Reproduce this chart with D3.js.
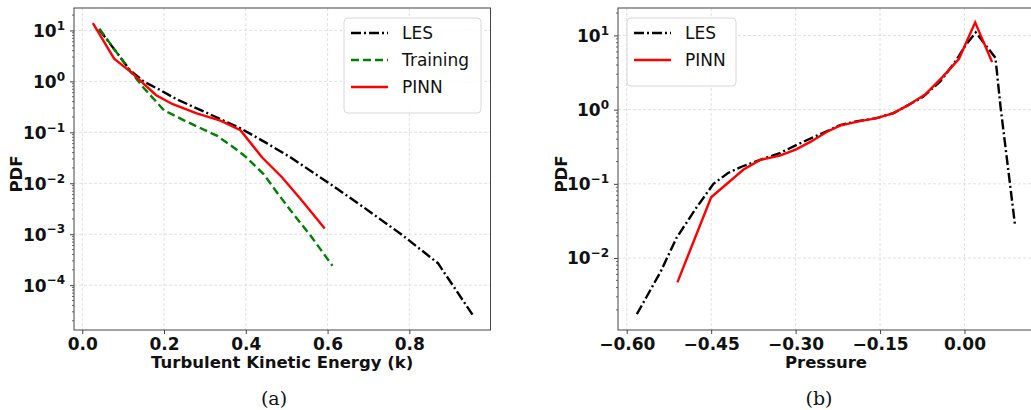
<!DOCTYPE html>
<html>
<head>
<meta charset="utf-8">
<script src="https://cdn.jsdelivr.net/npm/d3@7"></script>
<style>
  body { margin: 0; background: #fff; }
  svg { display: block; }
</style>
</head>
<body>
<div id="chart"></div>
<script>
'use strict'

// ---------- data ----------
const lesK = [[0.041,10.5],[0.08,4.1],[0.117,1.65],[0.15,1.0],[0.19,0.68],[0.23,0.45],[0.30,0.25],[0.387,0.12],[0.45,0.062],[0.51,0.032],[0.60,0.0105],[0.69,0.0033],[0.78,0.001],[0.87,0.00027],[0.955,0.000026]]
const trainK = [[0.042,10.8],[0.08,4.1],[0.117,1.6],[0.15,0.75],[0.20,0.27],[0.25,0.17],[0.29,0.12],[0.33,0.085],[0.371,0.05],[0.40,0.033],[0.444,0.015],[0.48,0.006],[0.518,0.0024],[0.56,0.0009],[0.612,0.00024]]
const pinnK = [[0.026,13.9],[0.078,2.8],[0.12,1.5],[0.18,0.54],[0.22,0.36],[0.28,0.235],[0.338,0.17],[0.387,0.11],[0.44,0.032],[0.489,0.013],[0.536,0.0047],[0.593,0.0013]]

const lesP = [[-0.582,0.00175],[-0.54,0.0065],[-0.511,0.019],[-0.476,0.048],[-0.446,0.1],[-0.42,0.14],[-0.396,0.17],[-0.363,0.21],[-0.328,0.26],[-0.286,0.37],[-0.242,0.52],[-0.221,0.62],[-0.19,0.7],[-0.156,0.77],[-0.126,0.9],[-0.1,1.15],[-0.073,1.5],[-0.043,2.4],[-0.014,4.7],[0.001,7.2],[0.02,11],[0.055,5.0],[0.064,1.1],[0.09,0.027]]
const pinnP = [[-0.51,0.0047],[-0.45,0.066],[-0.393,0.155],[-0.363,0.21],[-0.328,0.24],[-0.30,0.29],[-0.273,0.37],[-0.245,0.5],[-0.221,0.61],[-0.19,0.69],[-0.156,0.77],[-0.126,0.9],[-0.1,1.15],[-0.07,1.6],[-0.04,2.7],[-0.01,4.8],[0.019,15],[0.049,4.4]]

const xTicksK = [0, 0.2, 0.4, 0.6, 0.8]
const xTicksP = [-0.60, -0.45, -0.30, -0.15, 0.00]
const yExpK = [1, 0, -1, -2, -3, -4]
const yExpP = [1, 0, -1, -2]

// ---------- svg ----------
const W = 1031, H = 410
const svg = d3.select('#chart').append('svg')
    .attr('width', W)
    .attr('height', H)

const font = 'DejaVu Sans, Verdana, sans-serif'

const styles = {
    les:   {color: '#000', dash: '10,3,2,3'},
    train: {color: '#008000', dash: '8,4'},
    pinn:  {color: '#ff0000', dash: null}
}

function panel(opts) {
    const g = svg.append('g')
    const x = d3.scaleLinear().domain(opts.xDomain).range([opts.left, opts.right])
    const y = d3.scaleLog().domain(opts.yDomain).range([opts.bottom, opts.top])

    // grid
    const grid = g.append('g')
    grid.selectAll('.gx').data(opts.xTicks).join('line')
        .attr('x1', d => x(d)).attr('x2', d => x(d))
        .attr('y1', opts.top).attr('y2', opts.bottom)
        .attr('stroke', '#d8d8d8').attr('stroke-width', 0.8).attr('stroke-dasharray', '3,2')
    grid.selectAll('.gy').data(opts.yExp).join('line')
        .attr('x1', opts.left).attr('x2', opts.right)
        .attr('y1', d => y(Math.pow(10, d))).attr('y2', d => y(Math.pow(10, d)))
        .attr('stroke', '#d8d8d8').attr('stroke-width', 0.8).attr('stroke-dasharray', '3,2')

    // lines
    const line = d3.line().x(d => x(d[0])).y(d => y(d[1]))
    opts.series.forEach(s => {
        g.append('path')
            .attr('d', line(s.data))
            .attr('fill', 'none')
            .attr('stroke', styles[s.key].color)
            .attr('stroke-width', 2.4)
            .attr('stroke-dasharray', styles[s.key].dash)
    })

    // frame
    g.append('rect')
        .attr('x', opts.left).attr('y', opts.top)
        .attr('width', opts.right - opts.left).attr('height', opts.bottom - opts.top)
        .attr('fill', 'none').attr('stroke', '#444').attr('stroke-width', 1)

    // x axis
    const xAxis = d3.axisBottom(x).tickValues(opts.xTicks).tickSize(4).tickPadding(4)
        .tickFormat(d => d3.format(opts.xFmt)(d).replace('-', '\u2212'))
    const gx = g.append('g').attr('transform', `translate(0,${opts.bottom})`).call(xAxis)
    gx.select('.domain').remove()
    gx.selectAll('line').attr('stroke', '#444')
    gx.selectAll('text').attr('font-family', font).attr('font-weight', 'bold')
        .attr('font-size', 17).attr('fill', '#111')

    // y axis major
    const yAxis = d3.axisLeft(y).tickValues(opts.yExp.map(e => Math.pow(10, e))).tickSize(4).tickPadding(5)
        .tickFormat('')
    const gy = g.append('g').attr('transform', `translate(${opts.left},0)`).call(yAxis)
    gy.select('.domain').remove()
    gy.selectAll('line').attr('stroke', '#444')
    gy.selectAll('.tick').each(function(d) {
        const e = Math.round(Math.log10(d))
        const t = d3.select(this).select('text')
            .attr('font-family', font).attr('font-weight', 'bold').attr('fill', '#111')
            .attr('font-size', 17).attr('dy', '0.35em')
        t.append('tspan').text('10')
        t.append('tspan').text(String(e).replace('-', '\u2212'))
            .attr('font-size', 12).attr('dy', '-0.6em')
    })

    // y axis minor
    const minor = []
    const lo = Math.floor(Math.log10(opts.yDomain[0])), hi = Math.ceil(Math.log10(opts.yDomain[1]))
    for (let e = lo; e < hi; e++) {
        for (let m = 2; m < 10; m++) {
            const v = m * Math.pow(10, e)
            if (v >= opts.yDomain[0] && v <= opts.yDomain[1]) minor.push(v)
        }
    }
    g.append('g').selectAll('line').data(minor).join('line')
        .attr('x1', opts.left - 2).attr('x2', opts.left)
        .attr('y1', d => y(d)).attr('y2', d => y(d))
        .attr('stroke', '#444').attr('stroke-width', 0.8)

    // axis labels
    g.append('text')
        .attr('x', (opts.left + opts.labelRight) / 2).attr('y', opts.bottom + 38)
        .attr('text-anchor', 'middle')
        .attr('font-family', font).attr('font-weight', 'bold').attr('font-size', 16.5).attr('fill', '#111')
        .text(opts.xLabel)
    g.append('text')
        .attr('transform', `translate(${opts.yLabelX},${(opts.top + opts.bottom) / 2 + 5}) rotate(-90)`)
        .attr('text-anchor', 'middle')
        .attr('font-family', font).attr('font-weight', 'bold').attr('font-size', 16.5).attr('fill', '#111')
        .text('PDF')

    // caption
    g.append('text')
        .attr('x', opts.captionX).attr('y', 405)
        .attr('text-anchor', 'middle')
        .attr('font-family', 'DejaVu Serif, Liberation Serif, serif').attr('font-size', 19).attr('fill', '#111')
        .text(opts.caption)

    // legend
    const lg = g.append('g').attr('transform', `translate(${opts.legend.x},${opts.legend.y})`)
    lg.append('rect')
        .attr('width', opts.legend.w).attr('height', 14 + 27 * opts.series.length)
        .attr('rx', 4)
        .attr('fill', 'rgba(255,255,255,0.85)').attr('stroke', '#d8d8d8')
    opts.series.forEach((s, i) => {
        const yy = 15 + 27 * i
        lg.append('line')
            .attr('x1', 7).attr('x2', 44).attr('y1', yy).attr('y2', yy)
            .attr('stroke', styles[s.key].color).attr('stroke-width', 2.4)
            .attr('stroke-dasharray', styles[s.key].dash)
        lg.append('text')
            .attr('x', 58).attr('y', yy).attr('dy', '0.35em')
            .attr('font-family', font).attr('font-size', 17).attr('fill', '#111')
            .text(s.name)
    })
}

panel({
    left: 74, right: 490.5, top: 8, bottom: 330,
    xDomain: [-0.0202, 0.9985], yDomain: [Math.pow(10, -4.88), Math.pow(10, 1.44)],
    xTicks: xTicksK, xFmt: '.1f', yExp: yExpK,
    xLabel: 'Turbulent Kinetic Energy (k)', labelRight: 490.5, yLabelX: 22,
    caption: '(a)', captionX: 274,
    legend: {x: 344, y: 18, w: 137},
    series: [
        {key: 'les', name: 'LES', data: lesK},
        {key: 'train', name: 'Training', data: trainK},
        {key: 'pinn', name: 'PINN', data: pinnK}
    ]
})

panel({
    left: 618, right: 1034, top: 8, bottom: 330,
    xDomain: [-0.6155, 0.1235], yDomain: [Math.pow(10, -2.97), Math.pow(10, 1.37)],
    xTicks: xTicksP, xFmt: '.2f', yExp: yExpP,
    xLabel: 'Pressure', labelRight: 1034, yLabelX: 567,
    caption: '(b)', captionX: 819,
    legend: {x: 627, y: 18, w: 109},
    series: [
        {key: 'les', name: 'LES', data: lesP},
        {key: 'pinn', name: 'PINN', data: pinnP}
    ]
})
</script>
</body>
</html>
